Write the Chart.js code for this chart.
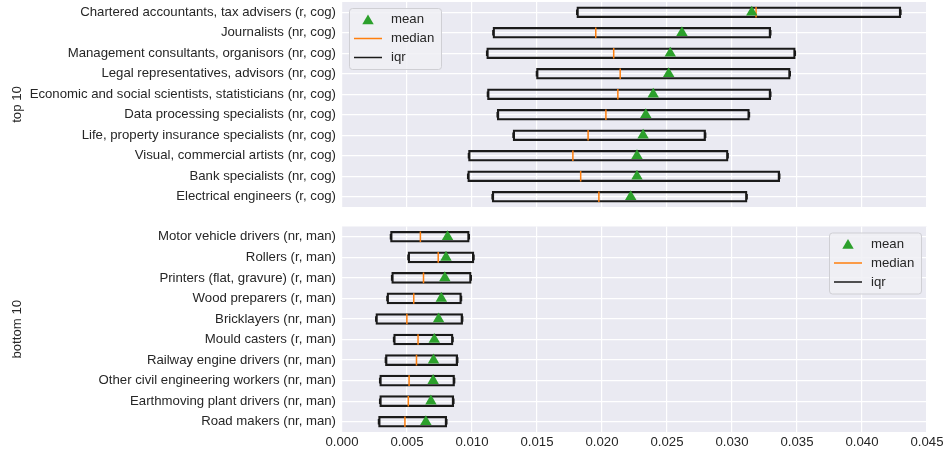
<!DOCTYPE html>
<html>
<head>
<meta charset="utf-8">
<script src="https://cdn.jsdelivr.net/npm/chart.js@4/dist/chart.umd.min.js"></script>
<style>
  html, body { margin: 0; padding: 0; background: #ffffff; }
  #wrap { position: relative; width: 948px; height: 455px; }
  canvas { position: absolute; left: 0; }
  #topChart { top: 0; }
  #bottomChart { top: 215px; }
</style>
</head>
<body>
<div id="wrap">
  <canvas id="topChart" width="948" height="215"></canvas>
  <canvas id="bottomChart" width="948" height="240"></canvas>
</div>
<script>
// Occupations with the highest scores
const topLabels = [
  'Chartered accountants, tax advisers (r, cog)',
  'Journalists (nr, cog)',
  'Management consultants, organisors (nr, cog)',
  'Legal representatives, advisors (nr, cog)',
  'Economic and social scientists, statisticians (nr, cog)',
  'Data processing specialists (nr, cog)',
  'Life, property insurance specialists (nr, cog)',
  'Visual, commercial artists (nr, cog)',
  'Bank specialists (nr, cog)',
  'Electrical engineers (r, cog)'
];
const topQ1     = [0.01806, 0.01161, 0.01113, 0.01496, 0.01119, 0.01194, 0.01316, 0.00973, 0.00967, 0.01155];
const topQ3     = [0.04299, 0.03298, 0.03487, 0.03448, 0.03298, 0.03134, 0.02797, 0.02970, 0.03367, 0.03116];
const topMedian = [0.03185, 0.01952, 0.02090, 0.02140, 0.02122, 0.02030, 0.01893, 0.01776, 0.01836, 0.01976];
const topMean   = [0.03152, 0.02615, 0.02525, 0.02513, 0.02394, 0.02337, 0.02316, 0.02269, 0.02269, 0.02221];

// Occupations with the lowest scores
const bottomLabels = [
  'Motor vehicle drivers (nr, man)',
  'Rollers (r, man)',
  'Printers (flat, gravure) (r, man)',
  'Wood preparers (r, man)',
  'Bricklayers (nr, man)',
  'Mould casters (r, man)',
  'Railway engine drivers (nr, man)',
  'Other civil engineering workers (nr, man)',
  'Earthmoving plant drivers (nr, man)',
  'Road makers (nr, man)'
];
const bottomQ1     = [0.00373, 0.00508, 0.00382, 0.00346, 0.00260, 0.00397, 0.00334, 0.00290, 0.00290, 0.00281];
const bottomQ3     = [0.00979, 0.01015, 0.00994, 0.00919, 0.00928, 0.00854, 0.00890, 0.00866, 0.00860, 0.00806];
const bottomMedian = [0.00603, 0.00740, 0.00627, 0.00552, 0.00499, 0.00585, 0.00573, 0.00516, 0.00510, 0.00484];
const bottomMean   = [0.00812, 0.00800, 0.00791, 0.00764, 0.00743, 0.00710, 0.00704, 0.00701, 0.00684, 0.00645];

// Shared x axis
const xTickValues = [0, 0.005, 0.01, 0.015, 0.02, 0.025, 0.03, 0.035, 0.04, 0.045];

const BG = '#EAEAF2';
const TEXT = '#262626';
const MEAN_COLOR = '#2ca02c';
const MEDIAN_COLOR = '#ff7f0e';
const BOX_COLOR = '#1a1a1a';
const FONT_SIZE = 13.2;
const FONT_FAMILY = "'Liberation Sans', Arial, sans-serif";
const MEAN_RADIUS = 6.6;

Chart.defaults.font.family = FONT_FAMILY;
Chart.defaults.font.size = FONT_SIZE;
Chart.defaults.color = TEXT;

// Fill the plotting area with the panel colour
const panelBackground = {
  id: 'panelBackground',
  beforeDraw(chart) {
    const { ctx, chartArea: a } = chart;
    ctx.save();
    ctx.fillStyle = BG;
    ctx.fillRect(a.left, a.top, a.right - a.left, a.bottom - a.top);
    ctx.restore();
  }
};

// Framed legend drawn inside the plotting area
const boxLegend = {
  id: 'boxLegend',
  afterDraw(chart, args, opts) {
    const { ctx, chartArea: a } = chart;
    const w = 92, h = 61;
    const x = opts.corner === 'right' ? a.right - 6 - w : a.left + 7;
    const y = a.top + 6;
    ctx.save();
    ctx.beginPath();
    ctx.roundRect(x + 0.5, y + 0.5, w, h, 3);
    ctx.fillStyle = 'rgba(240,240,245,0.85)';
    ctx.fill();
    ctx.strokeStyle = '#cfcfd4';
    ctx.lineWidth = 1;
    ctx.stroke();

    const rows = [y + 11.5, y + 30.5, y + 49.5];
    // mean marker
    ctx.fillStyle = MEAN_COLOR;
    ctx.beginPath();
    const r = MEAN_RADIUS, s = r * Math.sqrt(3) / 2;
    ctx.moveTo(x + 19, rows[0] - r + 1.5);
    ctx.lineTo(x + 19 + s, rows[0] + r / 2 + 1.5);
    ctx.lineTo(x + 19 - s, rows[0] + r / 2 + 1.5);
    ctx.closePath();
    ctx.fill();
    // median line
    ctx.strokeStyle = MEDIAN_COLOR;
    ctx.lineWidth = 1.5;
    ctx.beginPath();
    ctx.moveTo(x + 5, rows[1]);
    ctx.lineTo(x + 33, rows[1]);
    ctx.stroke();
    // iqr line
    ctx.strokeStyle = BOX_COLOR;
    ctx.beginPath();
    ctx.moveTo(x + 5, rows[2]);
    ctx.lineTo(x + 33, rows[2]);
    ctx.stroke();

    ctx.fillStyle = TEXT;
    ctx.font = FONT_SIZE + 'px ' + FONT_FAMILY;
    ctx.textBaseline = 'middle';
    ctx.textAlign = 'left';
    ['mean', 'median', 'iqr'].forEach((t, i) => ctx.fillText(t, x + 42, rows[i]));
    ctx.restore();
  }
};

// Short vertical cap drawn at each end of a box
function capDataset(values) {
  return {
    type: 'line',
    label: 'cap',
    data: values,
    showLine: false,
    pointStyle: 'line',
    rotation: 90,
    pointRadius: 2.8,
    pointHoverRadius: 2.8,
    pointBorderColor: BOX_COLOR,
    pointBorderWidth: 1.5,
    order: 2
  };
}

function buildChart(canvasId, labels, q1, q3, median, mean, cfg) {
  return new Chart(document.getElementById(canvasId), {
    type: 'bar',
    data: {
      labels: labels,
      datasets: [
        {
          type: 'line',
          label: 'mean',
          data: mean,
          showLine: false,
          pointStyle: 'triangle',
          pointRadius: MEAN_RADIUS,
          pointHoverRadius: MEAN_RADIUS,
          pointBackgroundColor: MEAN_COLOR,
          pointBorderColor: MEAN_COLOR,
          pointBorderWidth: 0,
          order: 0
        },
        {
          type: 'line',
          label: 'median',
          data: median,
          showLine: false,
          pointStyle: 'line',
          rotation: 90,
          pointRadius: 5.3,
          pointHoverRadius: 5.3,
          pointBorderColor: MEDIAN_COLOR,
          pointBorderWidth: 1.5,
          order: 1
        },
        capDataset(q1),
        capDataset(q3),
        {
          type: 'bar',
          label: 'iqr',
          data: q1.map((v, i) => [v, q3[i]]),
          backgroundColor: 'rgba(0,0,0,0)',
          borderColor: BOX_COLOR,
          borderWidth: 1.6,
          borderSkipped: false,
          barThickness: 11,
          order: 3
        }
      ]
    },
    options: {
      indexAxis: 'y',
      responsive: false,
      animation: false,
      events: [],
      layout: { autoPadding: false, padding: { left: 0, right: 21, top: cfg.padTop, bottom: 0 } },
      plugins: {
        legend: { display: false },
        tooltip: { enabled: false },
        boxLegend: { corner: cfg.legendCorner }
      },
      scales: {
        x: {
          type: 'linear',
          min: 0,
          max: 0.045,
          afterBuildTicks(scale) {
            scale.ticks = xTickValues.map(v => ({ value: v }));
          },
          ticks: {
            display: cfg.showX,
            padding: 2,
            color: TEXT,
            callback: v => Number(v).toFixed(3)
          },
          grid: { color: '#ffffff', lineWidth: 1.2, drawTicks: false },
          border: { display: false },
          afterFit(scale) {
            scale.height = cfg.xHeight;
            scale.paddingLeft = 0;
            scale.paddingRight = 0;
          }
        },
        y: {
          type: 'category',
          offset: true,
          ticks: { padding: 6, color: TEXT, autoSkip: false },
          grid: { color: '#ffffff', lineWidth: 1.2, drawTicks: false, offset: false },
          border: { display: false },
          title: {
            display: true,
            text: cfg.title,
            color: TEXT,
            font: { size: FONT_SIZE },
            padding: { top: 9, bottom: 0 }
          },
          afterFit(scale) {
            scale.width = 342;
            scale.paddingTop = 0;
            scale.paddingBottom = 0;
          }
        }
      }
    },
    plugins: [panelBackground, boxLegend]
  });
}

buildChart('topChart', topLabels, topQ1, topQ3, topMedian, topMean,
  { padTop: 2, xHeight: 8, showX: false, title: 'top 10', legendCorner: 'left' });
buildChart('bottomChart', bottomLabels, bottomQ1, bottomQ3, bottomMedian, bottomMean,
  { padTop: 11.5, xHeight: 23, showX: true, title: 'bottom 10', legendCorner: 'right' });
</script>
</body>
</html>
